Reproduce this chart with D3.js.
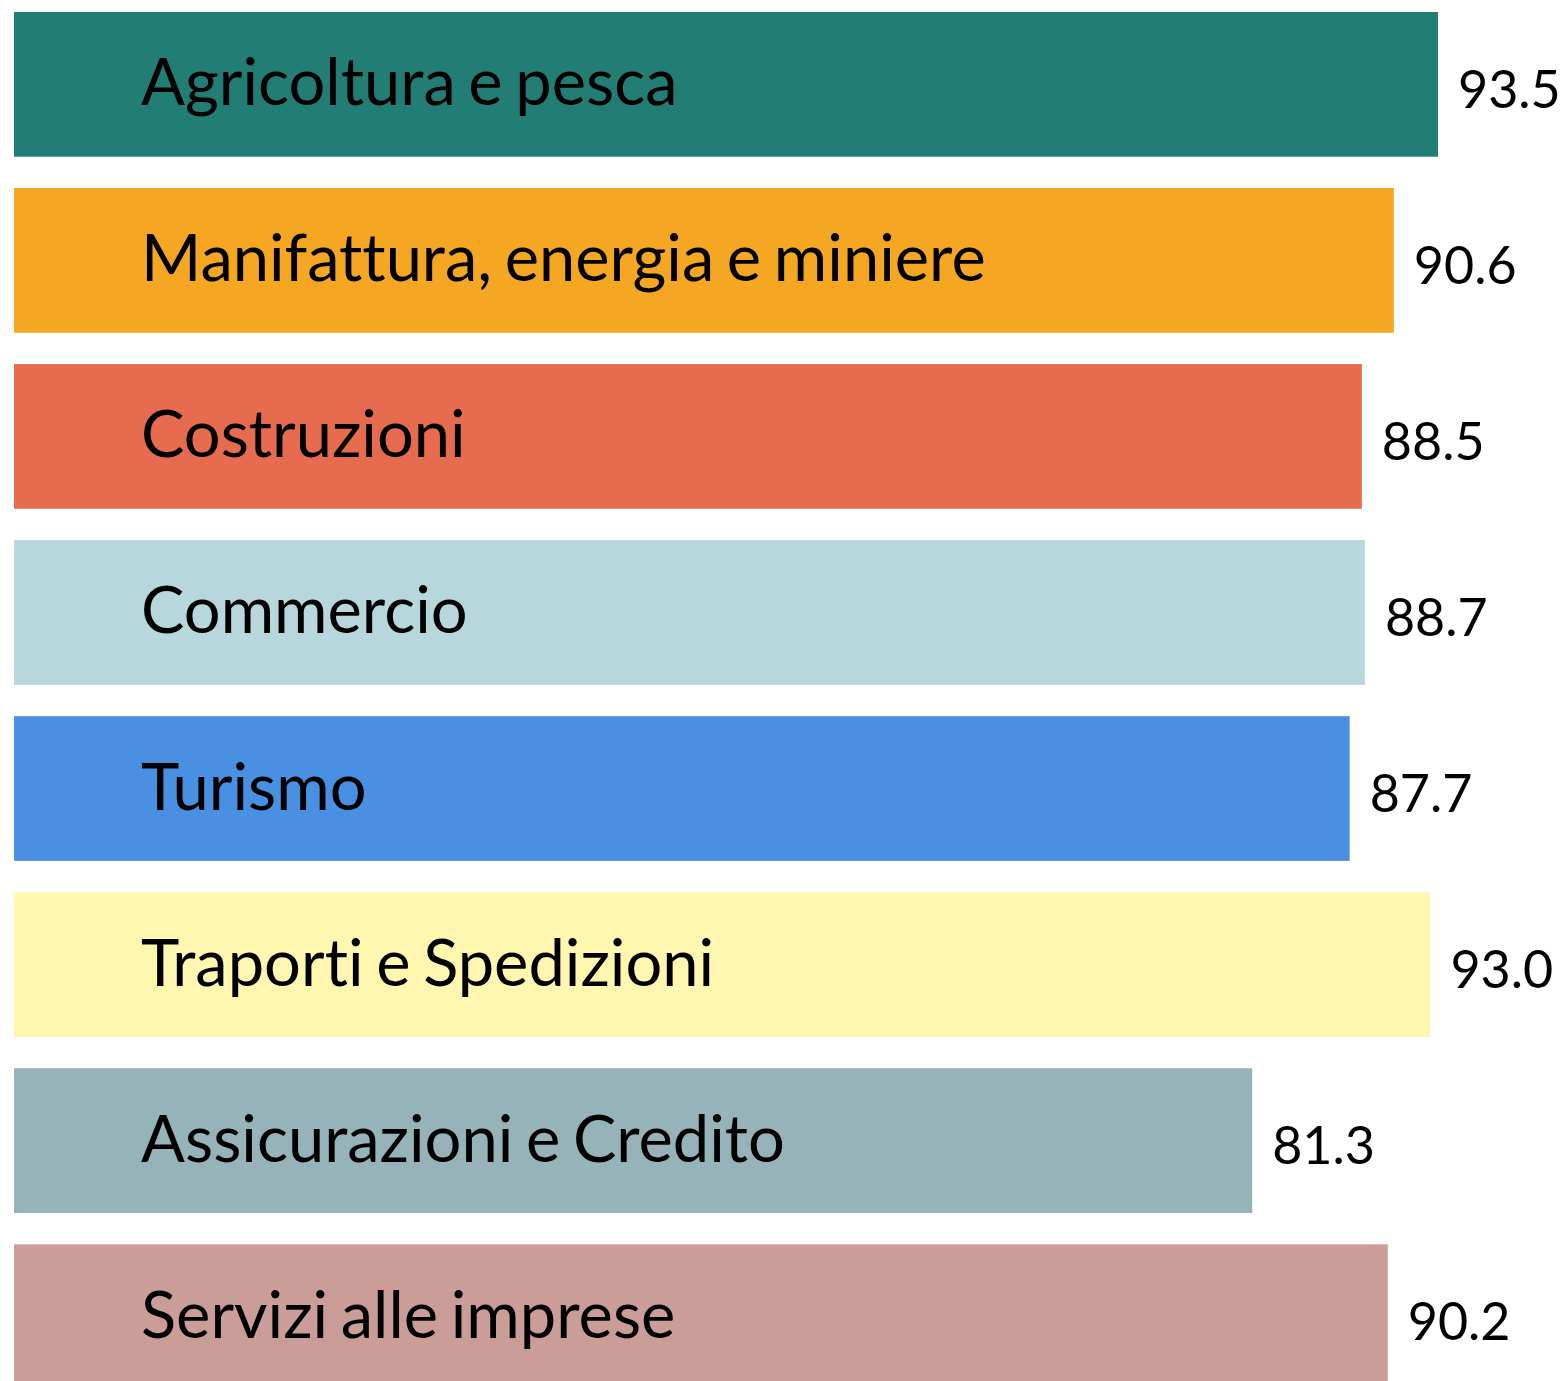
<!DOCTYPE html>
<meta charset="utf-8">
<style>
  body { margin: 0; background: #fff; }
  svg { display: block; overflow: hidden; }
  .label { font-family: Lato, sans-serif; font-size: 65px; fill: #000; word-spacing: -4px; }
  .value { font-family: Lato, sans-serif; font-size: 52px; fill: #000; }
  text { font-variant-ligatures: none; font-feature-settings: "liga" 0, "clig" 0; }
</style>
<body>
<svg width="1563" height="1381"></svg>
<script src="https://d3js.org/d3.v7.min.js"></script>
<script>

var sectors = ["Agricoltura e pesca", "Manifattura, energia e miniere", "Costruzioni", "Commercio",
               "Turismo", "Traporti e Spedizioni", "Assicurazioni e Credito", "Servizi alle imprese"];
var values = [93.5, 90.6, 88.5, 88.7, 87.7, 93.0, 81.3, 90.2];
var colors = ["#227e74", "#f5a623", "#e76b4e", "#b8d7dc", "#4a90e2", "#fff6b0", "#95b3b8", "#ca9d99"];

var data = sectors.map(function(s, i) { return {sector: s, value: values[i], color: colors[i]}; });

var svg = d3.select("svg");

var x = d3.scaleLinear()
    .domain([0, d3.max(values)])
    .range([14, 1438]);

var y = d3.scaleBand()
    .domain(sectors)
    .range([12, 1389])
    .paddingInner(0.178)
    .paddingOuter(0);

var row = svg.selectAll("g.row")
    .data(data)
  .enter().append("g")
    .attr("class", "row");

row.append("rect")
    .attr("x", x(0))
    .attr("y", function(d) { return y(d.sector); })
    .attr("width", function(d) { return x(d.value) - x(0); })
    .attr("height", y.bandwidth())
    .style("fill", function(d) { return d.color; });

row.append("text")
    .attr("class", "label")
    .attr("x", 141)
    .attr("y", function(d) { return y(d.sector) + y.bandwidth() / 2 + 21; })
    .text(function(d) { return d.sector; });

row.append("text")
    .attr("class", "value")
    .attr("x", function(d) { return x(d.value) + 20; })
    .attr("y", function(d) { return y(d.sector) + y.bandwidth() / 2 + 23.5; })
    .text(function(d) { return d3.format(".1f")(d.value); });

</script>
</body>
